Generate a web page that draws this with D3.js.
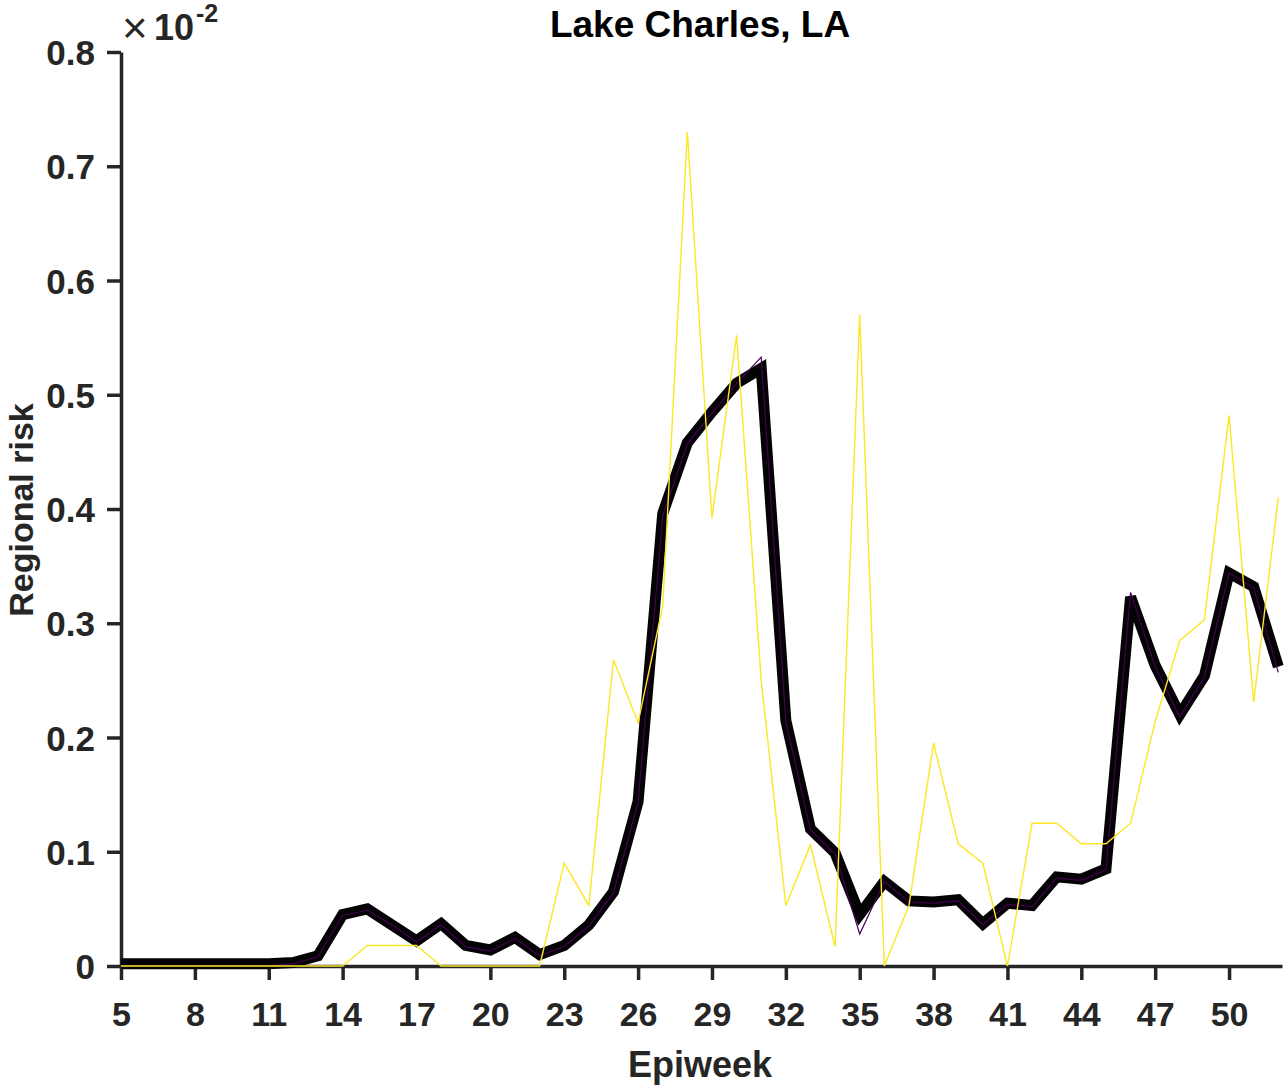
<!DOCTYPE html>
<html>
<head>
<meta charset="utf-8">
<script src="https://cdn.jsdelivr.net/npm/d3@7"></script>
<style>
  html, body { margin: 0; padding: 0; background: #fff; }
  svg { display: block; }
  text { font-family: "Liberation Sans", Arial, Helvetica, sans-serif; }
</style>
</head>
<body>
<svg id="chart" width="1288" height="1086"></svg>
<script>
// ---- data (values in units of 10^-2) ----
const weeks = d3.range(5, 53);
const observed = [0,0,0,0,0,0,0,0,0,0,0.018,0.018,0.018,0,0,0,0,0,0.09,0.053,0.268,0.213,0.315,0.73,0.392,0.552,0.25,0.053,0.106,0.017,0.57,0,0.053,0.195,0.107,0.09,0,0.125,0.125,0.107,0.107,0.125,0.214,0.285,0.303,0.482,0.231,0.41];
const meanRisk = [0.002,0.002,0.002,0.002,0.002,0.002,0.002,0.003,0.009,0.045,0.05,0.036,0.022,0.037,0.018,0.014,0.025,0.01,0.018,0.036,0.065,0.144,0.396,0.458,0.485,0.51,0.523,0.215,0.12,0.099,0.045,0.074,0.057,0.056,0.058,0.037,0.055,0.053,0.078,0.076,0.085,0.323,0.263,0.22,0.254,0.344,0.332,0.262];
const medianRisk = [0,0,0,0,0,0,0,0.002,0.008,0.044,0.049,0.036,0.021,0.036,0.017,0.013,0.024,0.009,0.017,0.035,0.064,0.143,0.394,0.457,0.484,0.51,0.533,0.214,0.119,0.098,0.028,0.074,0.056,0.055,0.057,0.036,0.054,0.052,0.077,0.075,0.084,0.327,0.262,0.218,0.253,0.344,0.331,0.257];
const xTicks = [5,8,11,14,17,20,23,26,29,32,35,38,41,44,47,50];
const yTicks = [0,0.1,0.2,0.3,0.4,0.5,0.6,0.7,0.8];

const svg = d3.select("#chart");
const axisColor = "#262626";

const x = d3.scaleLinear().domain([5, 52.15]).range([121, 1282]);
const y = d3.scaleLinear().domain([0, 0.8]).range([966, 52]);

// axes
const xAxis = d3.axisBottom(x).tickValues(xTicks).tickSize(14).tickSizeOuter(0).tickPadding(22).tickFormat(d3.format("d"));
const yAxis = d3.axisLeft(y).tickValues(yTicks).tickSize(14).tickSizeOuter(0).tickPadding(12).tickFormat(d => d === 0 ? "0" : d3.format(".1f")(d));

const gx = svg.append("g").attr("transform", "translate(0,966)").call(xAxis);
const gy = svg.append("g").attr("transform", "translate(121,0)").call(yAxis);
[gx, gy].forEach(g => {
  g.select(".domain").attr("stroke", axisColor).attr("stroke-width", 3.5);
  g.selectAll(".tick line").attr("stroke", axisColor).attr("stroke-width", 3.5);
  g.selectAll(".tick text").attr("fill", axisColor).attr("font-size", 34).attr("font-weight", "bold");
});
gx.selectAll(".tick text").attr("dy", "0.71em");
gy.selectAll(".tick text").attr("dy", "0.36em").attr("font-size", 35);

// lines
const line = arr => d3.line().x((d, i) => x(weeks[i])).y(d => y(d))(arr);

svg.append("path").attr("d", line(meanRisk)).attr("fill", "none")
  .attr("stroke", "#050205").attr("stroke-width", 11).attr("stroke-linejoin", "miter").attr("stroke-linecap", "butt");
svg.append("path").attr("d", line(medianRisk)).attr("fill", "none")
  .attr("stroke", "#440154").attr("stroke-width", 1.2);
svg.append("path").attr("d", line(observed)).attr("fill", "none")
  .attr("stroke", "#fde725").attr("stroke-width", 1.4);

// title
svg.append("text").attr("x", 700).attr("y", 37).attr("text-anchor", "middle")
  .attr("font-size", 37).attr("font-weight", "bold").attr("fill", "#000").text("Lake Charles, LA");

// axis labels
svg.append("text").attr("x", 700).attr("y", 1077).attr("text-anchor", "middle")
  .attr("font-size", 36).attr("font-weight", "bold").attr("fill", axisColor).text("Epiweek");
svg.append("text").attr("transform", "translate(33,510) rotate(-90)").attr("text-anchor", "middle")
  .attr("font-size", 34).attr("font-weight", "bold").attr("fill", axisColor).text("Regional risk");

// exponent
const ex = svg.append("g");
ex.append("text").attr("x", 122).attr("y", 43).attr("font-size", 44).attr("fill", axisColor)
  .attr("font-family", "'DejaVu Sans', sans-serif").attr("font-weight", 200).text("×");
ex.append("text").attr("x", 154).attr("y", 40).attr("font-size", 36).attr("font-weight", "bold").attr("fill", axisColor).text("10");
ex.append("text").attr("x", 196).attr("y", 22).attr("font-size", 25).attr("font-weight", "bold").attr("fill", axisColor).text("-2");
</script>
</body>
</html>
